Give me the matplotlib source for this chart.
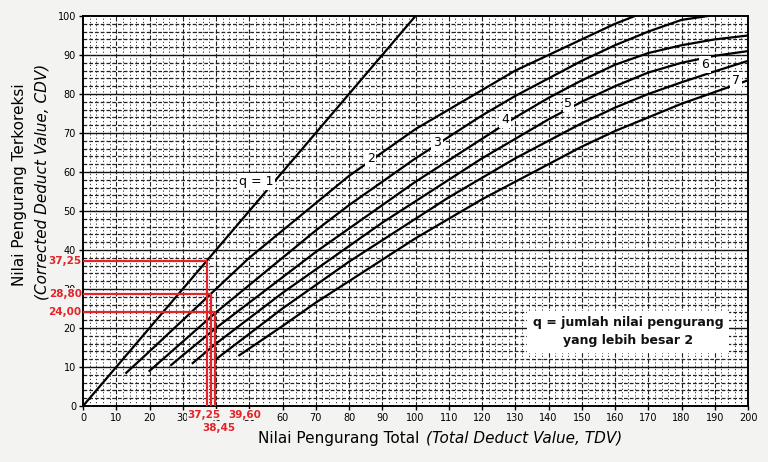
import matplotlib
matplotlib.use("Agg")
import matplotlib.pyplot as plt
import numpy as np

# ---- data ----
q1_tdv = [0, 100]
q1_cdv = [0, 100]

q2_tdv = [13, 20, 30, 40, 50, 60, 70, 80, 90, 100, 110, 120, 130, 140, 150, 160, 166]
q2_cdv = [8.5, 14, 22, 30, 38, 45, 52, 59, 65, 71, 76, 81, 86, 90, 94, 98, 100]

q3_tdv = [20, 30, 40, 50, 60, 70, 80, 90, 100, 110, 120, 130, 140, 150, 160, 170, 180, 188]
q3_cdv = [9, 16.5, 24, 31, 38, 45, 51.5, 57.5, 63.5, 69, 74.5, 79.5, 84, 88.5, 92.5, 96, 99, 100]

q4_tdv = [26.5, 30, 40, 50, 60, 70, 80, 90, 100, 110, 120, 130, 140, 150, 160, 170, 180, 190, 200]
q4_cdv = [10.5, 13, 20, 26.5, 33, 39.5, 45.5, 51.5, 57.5, 63, 68.5, 74, 79, 83.5, 87.5, 90.5, 92.5, 94, 95]

q5_tdv = [33, 40, 50, 60, 70, 80, 90, 100, 110, 120, 130, 140, 150, 160, 170, 180, 190, 200]
q5_cdv = [11, 16, 22.5, 29, 35, 41, 47, 52.5, 58, 63.5, 68.5, 73.5, 78, 82, 85.5, 88, 89.8, 91]

q6_tdv = [40, 50, 60, 70, 80, 90, 100, 110, 120, 130, 140, 150, 160, 170, 180, 190, 200]
q6_cdv = [12, 18.5, 25, 31, 37, 42.5, 48, 53.5, 58.5, 63.5, 68, 72.5, 76.5, 80, 83, 85.8, 88.5]

q7_tdv = [47, 60, 70, 80, 90, 100, 110, 120, 130, 140, 150, 160, 170, 180, 190, 200]
q7_cdv = [13, 20.5, 26.5, 32, 37.5, 43, 48, 53, 57.5, 62, 66.5, 70.5, 74, 77.5, 80.5, 83.5]

curves = [(q1_tdv, q1_cdv), (q2_tdv, q2_cdv), (q3_tdv, q3_cdv), (q4_tdv, q4_cdv),
          (q5_tdv, q5_cdv), (q6_tdv, q6_cdv), (q7_tdv, q7_cdv)]

curve_labels = ["q = 1", "2", "3", "4", "5", "6", "7"]
label_pos = [(52, 57.5), (86.5, 63.5), (106.5, 67.5), (127, 73.5), (146, 77.5), (187, 87.5), (196.5, 83.5)]

# red reading lines: (TDV, CDV, label)
read_tdv = [37.25, 38.45, 39.60]
read_cdv = [37.25, 28.80, 24.00]
read_tdv_txt = ["37,25", "38,45", "39,60"]
read_cdv_txt = ["37,25", "28,80", "24,00"]

x_ticks = list(range(0, 201, 10))
y_ticks = list(range(0, 101, 10))

# ---- figure ----
fig = plt.figure(figsize=(7.68, 4.62), dpi=100, facecolor="#f3f3f1")
ax = fig.add_axes([83 / 768, 1 - 406 / 462, (748 - 83) / 768, (406 - 16) / 462])
ax.set_facecolor("white")
ax.set_xlim(0, 200)
ax.set_ylim(0, 100)

# graph-paper grid
for yv in np.arange(2, 100, 2):
    if yv % 10 == 0:
        ax.axhline(yv, color="#111111", lw=1.0, zorder=1)
    else:
        ax.axhline(yv, color="#222222", lw=0.9, ls=(0, (3, 1.6)), zorder=1)
for xv in np.arange(2, 200, 2):
    if xv % 10 == 0:
        ax.axvline(xv, color="#222222", lw=0.8, ls=(0, (4, 1.5)), zorder=1)
    else:
        ax.axvline(xv, color="#333333", lw=0.7, ls=(0, (1.2, 2.2)), zorder=1)

for (tx, ty) in curves:
    ax.plot(tx, ty, color="black", lw=1.6, zorder=3)

for lab, (lx, ly) in zip(curve_labels, label_pos):
    ax.text(lx, ly, lab, ha="center", va="center", fontsize=9, color="black", zorder=5,
            bbox=dict(boxstyle="square,pad=0.15", fc="white", ec="none"))

ax.text(164, 19, "q = jumlah nilai pengurang\nyang lebih besar 2", ha="center", va="center",
        fontsize=9, fontweight="bold", color="#111111", linespacing=1.5, zorder=5,
        bbox=dict(boxstyle="square,pad=0.45", fc="white", ec="none"))

# red reading lines
red = "#e3242b"
for tx, cy in zip(read_tdv, read_cdv):
    ax.plot([0, tx], [cy, cy], color=red, lw=1.6, zorder=6, solid_capstyle="butt")
    ax.plot([tx, tx], [cy, 0], color=red, lw=1.6, zorder=6, solid_capstyle="butt")

ax.set_xticks(x_ticks)
ax.set_yticks(y_ticks)
ax.tick_params(axis="both", direction="out", length=3, width=1, labelsize=7, pad=2, colors="black")
for s in ax.spines.values():
    s.set_linewidth(1.4)
    s.set_color("black")

# red value labels (white backing so they read over the tick labels)
trans_y = ax.get_yaxis_transform()
for cy, txt in zip(read_cdv, read_cdv_txt):
    ax.text(-0.002, cy, txt, transform=trans_y, ha="right", va="center", color=red,
            fontsize=7.5, fontweight="bold", zorder=7, clip_on=False,
            bbox=dict(boxstyle="square,pad=0.05", fc="#f3f3f1", ec="none"))
bx_kw = dict(color=red, fontsize=7.5, fontweight="bold", clip_on=False, zorder=7,
             bbox=dict(boxstyle="square,pad=0.05", fc="#f3f3f1", ec="none"))
ax.text(read_tdv[0] - 0.8, -1.0, read_tdv_txt[0], ha="center", va="top", **bx_kw)
ax.text(read_tdv[2] + 9.0, -1.0, read_tdv_txt[2], ha="center", va="top", **bx_kw)
ax.text(read_tdv[1] + 2.5, -4.3, read_tdv_txt[1], ha="center", va="top", **bx_kw)

# axis titles
fig.text(424 / 768, 1 - 438 / 462, "Nilai Pengurang Total ", ha="right", va="center", fontsize=11)
fig.text(426 / 768, 1 - 438 / 462, "(Total Deduct Value, TDV)", ha="left", va="center",
         fontsize=11, style="italic")
fig.text(20 / 768, 1 - 185 / 462, "Nilai Pengurang Terkoreksi", rotation=90, ha="center",
         va="center", fontsize=11)
fig.text(42 / 768, 1 - 182 / 462, "(Corrected Deduct Value, CDV)", rotation=90, ha="center",
         va="center", fontsize=11, style="italic")

fig.savefig("out.png", dpi=100, facecolor=fig.get_facecolor())
